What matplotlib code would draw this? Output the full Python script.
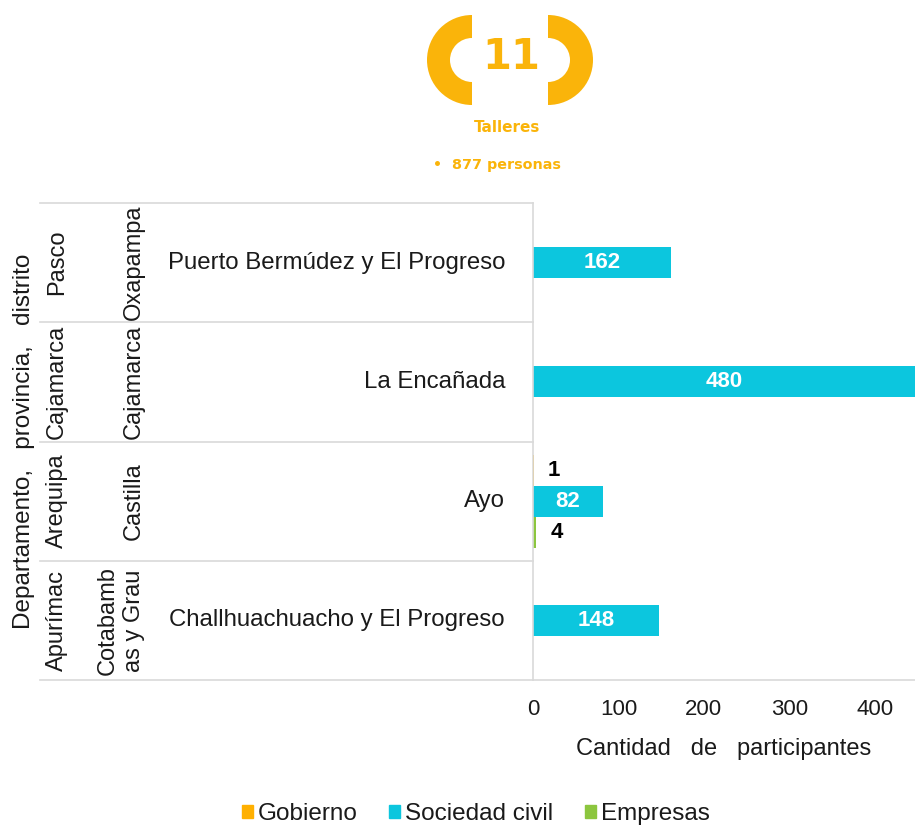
import matplotlib
matplotlib.use("Agg")
import matplotlib.pyplot as plt
from matplotlib.patches import Wedge, Rectangle
from matplotlib.transforms import blended_transform_factory
import numpy as np

# chart data
departamentos = ["Pasco", "Cajamarca", "Arequipa", "Apurímac"]
provincias = ["Oxapampa", "Cajamarca", "Castilla", "Cotabamb\nas y Grau"]
distritos = [
    "Puerto Bermúdez y El Progreso",
    "La Encañada",
    "Ayo",
    "Challhuachuacho y El Progreso",
]
gobierno = [0, 0, 1, 0]
sociedad_civil = [162, 480, 82, 148]
empresas = [0, 0, 4, 0]
series_names = ["Gobierno", "Sociedad civil", "Empresas"]
x_ticks = [0, 100, 200, 300, 400]

C_GOB = "#FFB000"
C_SOC = "#0CC6DE"
C_EMP = "#8CC63E"
C_ICON = "#FAB40A"
C_LINE = "#D9D9D9"
C_TEXT = "#1A1A1A"

plt.rcParams["font.family"] = ["Liberation Sans", "DejaVu Sans"]

W, H = 915, 826
fig = plt.figure(figsize=(W / 100, H / 100), dpi=100)

# background axes in pixel units for the header and the label table
bg = fig.add_axes([0, 0, 1, 1], zorder=0)
bg.set_xlim(0, W)
bg.set_ylim(H, 0)
bg.axis("off")

# header: bracket icon with number of workshops
bg.add_patch(Wedge((472, 60), 45, 90, 270, width=23, color=C_ICON, lw=0))
bg.add_patch(Wedge((548, 60), 45, -90, 90, width=23, color=C_ICON, lw=0))
bg.text(511, 57, "11", ha="center", va="center", fontsize=30,
        fontweight="bold", color=C_ICON, family="DejaVu Sans")
bg.text(507, 128, "Talleres", ha="center", va="center", fontsize=11,
        fontweight="bold", color=C_ICON, family="DejaVu Sans")
bg.text(497, 165, "•  877 personas", ha="center", va="center", fontsize=10.3,
        fontweight="bold", color=C_ICON, family="DejaVu Sans")

# main bar axes
left, right, top, bottom = 533, 915, 203, 680
ax = fig.add_axes([left / W, 1 - bottom / H, (right - left) / W, (bottom - top) / H],
                  zorder=1)
ax.patch.set_alpha(0)

y = np.arange(len(distritos))
h = 0.26
b_gob = ax.barh(y - h, gobierno, height=h, color=C_GOB, label=series_names[0])
b_soc = ax.barh(y, sociedad_civil, height=h, color=C_SOC, label=series_names[1])
b_emp = ax.barh(y + h, empresas, height=h, color=C_EMP, label=series_names[2])

ax.set_xlim(0, 447)
ax.set_ylim(len(distritos) - 0.5, -0.5)

ax.bar_label(b_soc, labels=[str(v) if v else "" for v in sociedad_civil],
             label_type="center", color="white", fontweight="bold", fontsize=16)
ax.bar_label(b_gob, labels=[str(v) if v else "" for v in gobierno],
             padding=10, color="black", fontweight="bold", fontsize=16)
ax.bar_label(b_emp, labels=[str(v) if v else "" for v in empresas],
             padding=10, color="black", fontweight="bold", fontsize=16)

ax.set_xticks(x_ticks)
ax.set_yticks([])
ax.tick_params(axis="x", length=0, pad=14, labelsize=16, labelcolor=C_TEXT)
for s in ["top", "right"]:
    ax.spines[s].set_visible(False)
for s in ["left", "bottom"]:
    ax.spines[s].set_color(C_LINE)
    ax.spines[s].set_linewidth(1.2)
ax.set_xlabel("Cantidad   de   participantes", fontsize=17, color=C_TEXT, labelpad=13)

# multi-level category labels on the left
trans = blended_transform_factory(bg.transData, ax.transData)
for b in np.arange(-0.5, len(distritos), 1.0):
    ax.plot([40, left], [b, b], color=C_LINE, lw=1.2, transform=trans, clip_on=False)

for i in y:
    ax.text(57, i, departamentos[i], rotation=90, ha="center", va="center",
            fontsize=17, color=C_TEXT, transform=trans)
    ax.text(145, i, provincias[i], rotation=90, ha="right", va="center",
            fontsize=17, color=C_TEXT, transform=trans, linespacing=1.25,
            multialignment="center")
    ax.text(505, i, distritos[i], ha="right", va="center",
            fontsize=17.3, color=C_TEXT, transform=trans)

bg.text(24, (top + bottom) / 2, "Departamento,   provincia,   distrito", rotation=90,
        ha="center", va="center", fontsize=17.5, color=C_TEXT)

# legend
handles = [Rectangle((0, 0), 1, 1, color=c) for c in (C_GOB, C_SOC, C_EMP)]
fig.legend(handles, series_names, loc="center", bbox_to_anchor=(0.52, 0.014),
           ncol=3, frameon=False, fontsize=17.5, handlelength=0.45, handleheight=0.45,
           handletextpad=0.2, columnspacing=1.3, labelcolor=C_TEXT)

fig.savefig("out.png", dpi=100)
